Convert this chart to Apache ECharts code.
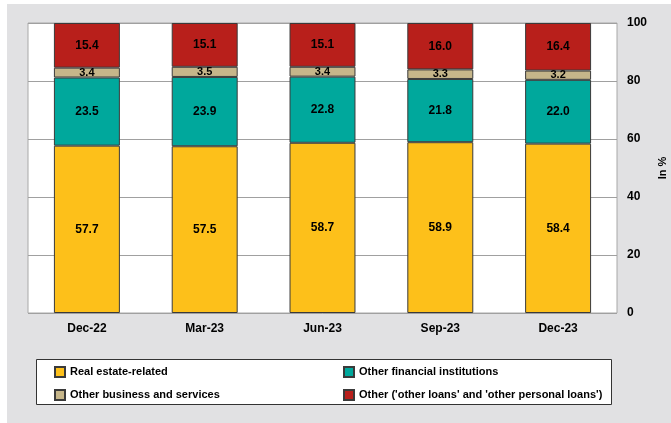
<!DOCTYPE html>
<html>
<head>
<meta charset="utf-8">
<script src="https://cdn.jsdelivr.net/npm/echarts@6/dist/echarts.min.js"></script>
<style>
  html, body { margin: 0; padding: 0; background: #fff; }
  #panel { position: absolute; left: 7px; top: 4px; width: 664px; height: 419px; background: #e1e1e3; }
  #chart { position: absolute; left: 0; top: 0; width: 671px; height: 423px; }
</style>
</head>
<body>
<div id="panel"></div>
<div id="chart"></div>
<script>
// 数据
const categories = ['Dec-22', 'Mar-23', 'Jun-23', 'Sep-23', 'Dec-23']
const realEstate = [57.7, 57.5, 58.7, 58.9, 58.4]
const otherFinancial = [23.5, 23.9, 22.8, 21.8, 22.0]
const otherBusiness = [3.4, 3.5, 3.4, 3.3, 3.2]
const otherLoans = [15.4, 15.1, 15.1, 16.0, 16.4]

const seriesNames = [
  'Real estate-related',
  'Other financial institutions',
  'Other business and services',
  "Other ('other loans' and 'other personal loans')"
]
const seriesColors = ['#fdc01a', '#00a89c', '#c6b68a', '#b81f1b']
const seriesData = [realEstate, otherFinancial, otherBusiness, otherLoans]

const font = '"Liberation Sans", Arial, sans-serif'

const chart = echarts.init(document.getElementById('chart'))

const series = seriesNames.map((name, i) => ({
  name: name,
  type: 'bar',
  stack: 'total',
  barWidth: '56%',
  data: seriesData[i],
  itemStyle: {
    color: seriesColors[i],
    borderColor: '#3a3a3a',
    borderWidth: 1
  },
  label: {
    show: true,
    position: 'inside',
    color: '#000',
    fontFamily: font,
    fontWeight: 'bold',
    fontSize: i === 2 ? 11 : 12,
    formatter: p => p.value.toFixed(1)
  },
  emphasis: { disabled: true }
}))

const legendText = {
  color: '#000',
  fontFamily: font,
  fontWeight: 'bold',
  fontSize: 11
}

chart.setOption({
  animation: false,
  grid: {
    left: 28,
    right: 54,
    top: 23,
    bottom: 110,
    outerBoundsMode: 'none',
    show: true,
    backgroundColor: '#fff',
    borderColor: '#a8a8a8',
    borderWidth: 1
  },
  legend: [
    {
      data: [seriesNames[0], seriesNames[2]],
      orient: 'vertical',
      left: 49,
      top: 361,
      icon: 'rect',
      itemWidth: 10,
      itemHeight: 10,
      itemGap: 11,
      textStyle: legendText,
      selectedMode: false
    },
    {
      data: [seriesNames[1], seriesNames[3]],
      orient: 'vertical',
      left: 338,
      top: 361,
      icon: 'rect',
      itemWidth: 10,
      itemHeight: 10,
      itemGap: 11,
      textStyle: legendText,
      selectedMode: false
    }
  ],
  graphic: [{
    type: 'rect',
    left: 36,
    top: 359,
    z: -1,
    shape: { width: 575, height: 45 },
    style: { fill: '#fff', stroke: '#333', lineWidth: 1 }
  }],
  xAxis: {
    type: 'category',
    data: categories,
    axisLine: { show: false },
    axisTick: { show: false },
    axisLabel: {
      color: '#000',
      fontFamily: font,
      fontWeight: 'bold',
      fontSize: 12,
      margin: 10
    }
  },
  yAxis: {
    type: 'value',
    position: 'right',
    min: 0,
    max: 100,
    interval: 20,
    name: 'In %',
    nameLocation: 'middle',
    nameRotate: 90,
    nameGap: 40,
    nameTextStyle: {
      color: '#000',
      fontFamily: font,
      fontWeight: 'bold',
      fontSize: 11
    },
    axisLine: { show: false },
    axisTick: { show: false },
    axisLabel: {
      color: '#000',
      fontFamily: font,
      fontWeight: 'bold',
      fontSize: 12,
      margin: 10
    },
    splitLine: { lineStyle: { color: '#a0a0a0', width: 1 } }
  },
  series: series
})
</script>
</body>
</html>
